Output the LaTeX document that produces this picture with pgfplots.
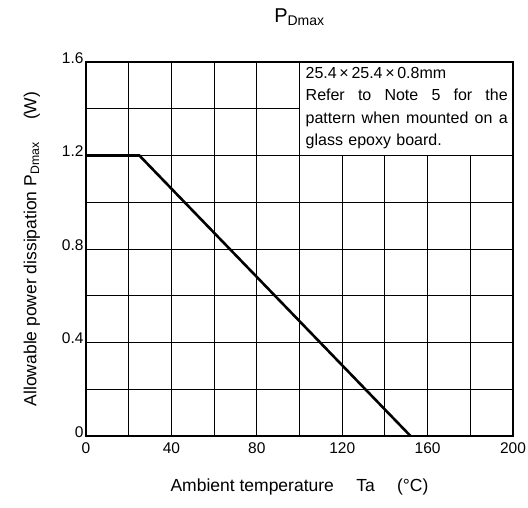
\documentclass[border=0pt]{standalone}
\usepackage{pgfplots}
\pgfplotsset{compat=1.18}
\usepackage{fontspec}
\setmainfont{Liberation Sans}
\usetikzlibrary{calc}
\begin{document}
\begin{tikzpicture}[x=1pt,y=1pt]
\begin{axis}[
  name=ax,
  at={(0,0)}, anchor=south west,
  scale only axis,
  width=427pt, height=374pt,
  xmin=0, xmax=200, ymin=0, ymax=1.6,
  xtick={0,40,...,200},
  ytick={0,0.4,...,1.6},
  minor xtick={20,60,100,140,180},
  minor ytick={0.2,0.6,1.0,1.4},
  yticklabels={0,0.4,0.8,1.2,1.6},
  grid=both,
  major grid style={black, line width=0.9pt},
  minor grid style={black, line width=0.9pt},
  axis line style={black, line width=2pt},
  tick style={draw=none},
  /pgf/number format/assume math mode=true,
  ticklabel style={font=\fontsize{15.5}{18}\selectfont},
  yticklabel style={yshift=4pt, xshift=1pt},
  xticklabel style={yshift=-3pt},
  xlabel={Ambient temperature\quad\ Ta\quad\ (°C)},
  ylabel={Allowable power dissipation P\textsubscript{Dmax}\quad\ (W)},
  label style={font=\fontsize{17.5}{20}\selectfont},
  xlabel style={yshift=-18pt},
  ylabel style={yshift=15pt},
  title={P\textsubscript{Dmax}},
  title style={font=\fontsize{20}{24}\selectfont, yshift=27pt},
  clip=false,
]
\fill[white] (axis cs:100,1.6) rectangle (axis cs:200,1.2);
\draw[black, line width=1pt] (axis cs:100,1.6) -- (axis cs:100,1.2) -- (axis cs:200,1.2);
\node[anchor=north west, inner sep=0pt, text width=202pt, align=left,
      font=\fontsize{16}{22.5}\selectfont] at ($(axis cs:100,1.6)+(6pt,-5pt)$)
  {25.4\,×\,25.4\,×\,0.8mm\\
   \makebox[202pt][s]{Refer\hfill to\hfill Note\hfill 5\hfill for\hfill the}\\
   \makebox[202pt][s]{pattern\hfill when\hfill mounted\hfill on\hfill a}\\
   glass epoxy board.};
\addplot[black, line width=2.6pt] coordinates {(0,1.2) (25,1.2) (152,0)};
\draw[black, line width=2pt] (rel axis cs:0,0) rectangle (rel axis cs:1,1);
\end{axis}
\pgfresetboundingbox
\path ($(ax.south west)+(-86pt,-72pt)$) rectangle +(528pt,508pt);
\end{tikzpicture}
\end{document}
